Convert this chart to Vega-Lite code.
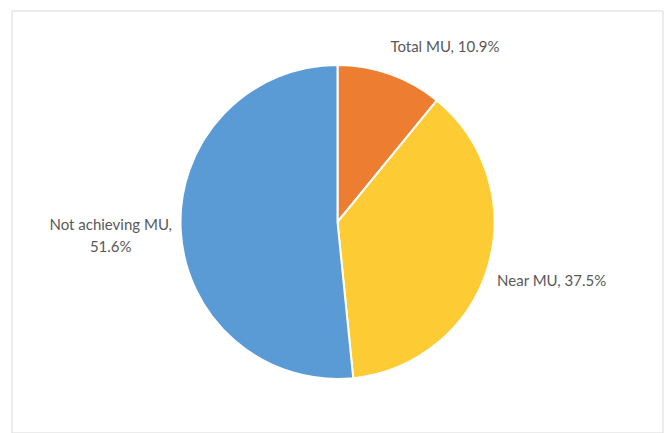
{
  "$schema": "https://vega.github.io/schema/vega-lite/v6.json",
  "width": 651,
  "height": 422,
  "autosize": {"type": "none"},
  "padding": {"left": 12, "top": 11, "right": 2, "bottom": 0},
  "background": "white",
  "config": {
    "view": {"stroke": null},
    "text": {"font": "Lato", "fontSize": 15, "fill": "#595959"}
  },
  "datasets": {
    "slices": [
      {"category": "Total MU", "rank": 1, "pct": 10.9, "label": "Total MU, 10.9%"},
      {"category": "Near MU", "rank": 2, "pct": 37.5, "label": "Near MU, 37.5%"},
      {"category": "Not achieving MU", "rank": 3, "pct": 51.6, "label": "Not achieving MU,\n51.6%"}
    ],
    "frame": [{"name": "frame"}]
  },
  "layer": [
    {
      "data": {"name": "frame"},
      "mark": {"type": "rect", "fill": null, "fillOpacity": 0, "stroke": "#d9d9d9", "strokeWidth": 1},
      "encoding": {}
    },
    {
      "data": {"name": "slices"},
      "encoding": {
        "theta": {"field": "pct", "type": "quantitative", "stack": true},
        "order": {"field": "rank", "type": "quantitative", "sort": "ascending"}
      },
      "layer": [
        {
          "mark": {"type": "arc", "outerRadius": 157, "stroke": "white", "strokeWidth": 2},
          "encoding": {
            "color": {
              "field": "category",
              "type": "nominal",
              "scale": {"domain": ["Total MU", "Near MU", "Not achieving MU"], "range": ["#ED7D31", "#FDCB34", "#5B9BD5"]},
              "legend": null
            }
          }
        },
        {
          "mark": {"type": "text", "radius": 186, "align": "center", "baseline": "middle", "dx": 45},
          "encoding": {
            "text": {"condition": {"test": "datum.category == 'Total MU'", "field": "label"}, "value": ""}
          }
        },
        {
          "mark": {"type": "text", "radius": 175, "align": "left", "baseline": "middle", "dx": -8, "dy": 9},
          "encoding": {
            "text": {"condition": {"test": "datum.category == 'Near MU'", "field": "label"}, "value": ""}
          }
        },
        {
          "mark": {"type": "text", "radius": 175, "align": "center", "baseline": "middle", "dx": -52, "dy": -6, "lineBreak": "\n", "lineHeight": 22},
          "encoding": {
            "text": {"condition": {"test": "datum.category == 'Not achieving MU'", "field": "label"}, "value": ""}
          }
        }
      ]
    }
  ]
}
